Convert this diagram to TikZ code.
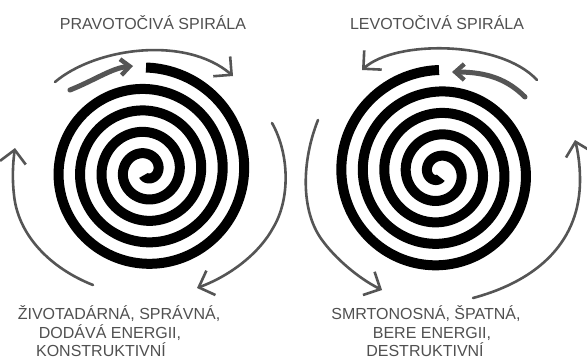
\documentclass[tikz,border=0pt]{standalone}
\usepackage{fontspec}
\setmainfont{Liberation Sans}
\usetikzlibrary{arrows.meta}
\definecolor{arrowgray}{HTML}{555555}
\definecolor{textgray}{HTML}{505050}
\begin{document}
\begin{tikzpicture}[x=0.5pt,y=-0.5pt,
  spiralline/.style={line width=5pt, draw=black},
  thinarrow/.style={draw=arrowgray, line width=1.3pt, line cap=round,
    -{Straight Barb[length=6.5pt,width=13pt,line width=1.3pt]}},
  thickarrow/.style={draw=arrowgray, line width=2.5pt, line cap=round,
    -{Straight Barb[length=4.5pt,width=8pt,line width=2.2pt]}},
  txt/.style={text=textgray, font=\fontsize{8pt}{10pt}\selectfont, inner sep=0pt, anchor=base}]
\useasboundingbox (0,0) rectangle (587,358);
\fill[white] (0,0) rectangle (587,358);

% spirals
\draw[spiralline] plot[smooth, domain=0:1649, samples=420, variable=\t]
  ({146 + (103.5-\t/360*21.5)*cos(\t-90)}, {171 + (103.5-\t/360*21.5)*sin(\t-90)});
\draw[spiralline] plot[smooth, domain=0:1640, samples=420, variable=\t]
  ({439 + (103-\t/360*21.5)*cos(-90-\t)}, {173 + (103-\t/360*21.5)*sin(-90-\t)});

% coordinates
\coordinate (L1s) at (55,82);   \coordinate (L1e) at (233,76);
\coordinate (L2s) at (70,90);   \coordinate (L2e) at (133,66);
\coordinate (L3s) at (272,123); \coordinate (L3m) at (273,228); \coordinate (L3e) at (197,288);
\coordinate (L4s) at (93,285);  \coordinate (L4m) at (14,195);  \coordinate (L4e) at (15,148);
\coordinate (R1s) at (537,80);  \coordinate (R1e) at (362,70);
\coordinate (R2s) at (525,97);  \coordinate (R2e) at (452,72);
\coordinate (R3s) at (318,120); \coordinate (R3m) at (322,240); \coordinate (R3e) at (382,290);
\coordinate (R4s) at (473,298); \coordinate (R4m) at (580,180); \coordinate (R4e) at (575,140);

% left spiral arrows
\draw[thinarrow] (L1s) .. controls (95,48) and (185,35) .. (L1e);
\draw[thickarrow] (L2s) .. controls (95,80) and (112,68) .. (L2e);
\draw[thinarrow] (L3s) .. controls (290,155) and (290,200) .. (L3m) .. controls (260,252) and (232,275) .. (L3e);
\draw[thinarrow] (L4s) .. controls (50,268) and (18,235) .. (L4m) .. controls (12,178) and (13,162) .. (L4e);

% right spiral arrows
\draw[thinarrow] (R1s) .. controls (500,40) and (395,40) .. (R1e);
\draw[thickarrow] (R2s) .. controls (508,80) and (488,72) .. (R2e);
\draw[thinarrow] (R3s) .. controls (302,160) and (300,210) .. (R3m) .. controls (335,258) and (358,278) .. (R3e);
\draw[thinarrow] (R4s) .. controls (540,280) and (580,240) .. (R4m) .. controls (580,165) and (578,152) .. (R4e);

% texts
\node[txt] (t1) at (153,30) {PRAVOTOČIVÁ SPIRÁLA};
\node[txt] (t2) at (437,30) {LEVOTOČIVÁ SPIRÁLA};
\node[txt] (a1) at (119,319) {ŽIVOTADÁRNÁ, SPRÁVNÁ,};
\node[txt] (a2) at (110,338) {DODÁVÁ ENERGII,};
\node[txt] (a3) at (101,356) {KONSTRUKTIVNÍ};
\node[txt] (b1) at (426,319) {SMRTONOSNÁ, ŠPATNÁ,};
\node[txt] (b2) at (432,338) {BERE ENERGII,};
\node[txt] (b3) at (425,356) {DESTRUKTIVNÍ};
\end{tikzpicture}
\end{document}
